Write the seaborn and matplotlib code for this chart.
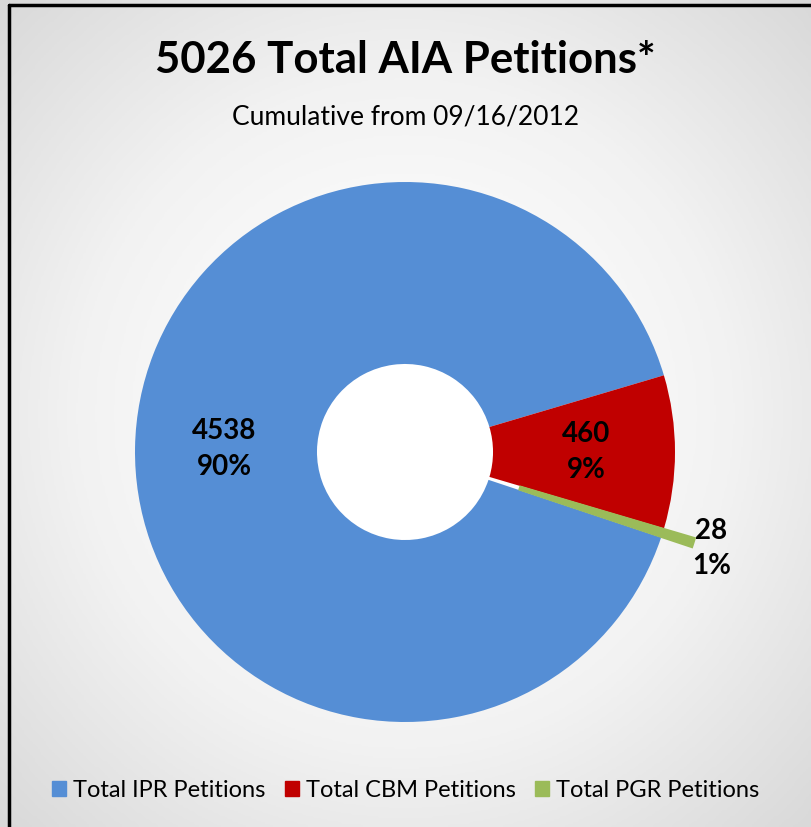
import numpy as np
import matplotlib.pyplot as plt
import seaborn as sns
from matplotlib.colors import LinearSegmentedColormap

# data
categories = ["Total IPR Petitions", "Total CBM Petitions", "Total PGR Petitions"]
counts = [4538, 460, 28]
pct_labels = ["90%", "9%", "1%"]
colors = ["#558ED5", "#C00000", "#9BBB59"]

sns.set_style("white")
plt.rcParams["font.family"] = ["Lato", "DejaVu Sans"]
plt.rcParams["text.color"] = "black"

fig = plt.figure(figsize=(8.11, 8.27), dpi=100)

# radial gradient background
bg = fig.add_axes([0, 0, 1, 1])
yy, xx = np.mgrid[-1:1:300j, -1:1:300j]
rr = np.sqrt(xx**2 + yy**2) / np.sqrt(2)
grad = LinearSegmentedColormap.from_list("bg", ["#ffffff", "#f2f2f2", "#d9d9d9"])
bg.imshow(rr, cmap=grad, vmin=0.15, vmax=1.0, extent=[0, 1, 0, 1],
          aspect="auto", zorder=0)
bg.plot([0.0115, 0.0115], [0, 0.994], color="black", lw=2.5)
bg.plot([0.0115, 1.0], [0.994, 0.994], color="black", lw=2.5)
bg.set_xlim(0, 1)
bg.set_ylim(0, 1)
bg.axis("off")

fig.text(0.5, 0.928, "5026 Total AIA Petitions*", ha="center", va="center",
         fontsize=31.5, fontweight="bold")
fig.text(0.5, 0.859, "Cumulative from 09/16/2012", ha="center", va="center",
         fontsize=19)

# donut: center ~ (405, 452), outer radius 270 px
r_px = 270
cx, cy = 405, 452
ax = fig.add_axes([(cx - r_px) / 811, (827 - cy - r_px) / 827,
                   2 * r_px / 811, 2 * r_px / 827])
ax.set_facecolor("none")
wedges, _ = ax.pie(counts, colors=colors, startangle=-18.45, counterclock=False,
                   explode=[0, 0, 0.12], radius=1.0,
                   wedgeprops=dict(width=0.674, linewidth=0))
wedges[2].set_edgecolor(colors[2])
wedges[2].set_linewidth(1.5)
ax.add_patch(plt.Circle((0, 0), 0.326, color="white", zorder=0))
ax.set_xlim(-1, 1)
ax.set_ylim(-1, 1)
ax.set_aspect("auto")

label_r = [0.67, 0.67, 1.19]
for w, n, p, r in zip(wedges, counts, pct_labels, label_r):
    ang = np.deg2rad((w.theta1 + w.theta2) / 2)
    ax.text(r * np.cos(ang), r * np.sin(ang), f"{n}\n{p}", ha="center",
            va="center", fontsize=20, fontweight="bold", linespacing=1.45)

handles = [plt.Rectangle((0, 0), 1, 1, color=c) for c in colors]
fig.legend(handles, categories, loc="center", bbox_to_anchor=(0.5, 0.044),
           ncol=3, frameon=False, fontsize=17, handlelength=0.6,
           handleheight=0.6, handletextpad=0.3, columnspacing=0.8)

fig.savefig("out.png", dpi=100)
